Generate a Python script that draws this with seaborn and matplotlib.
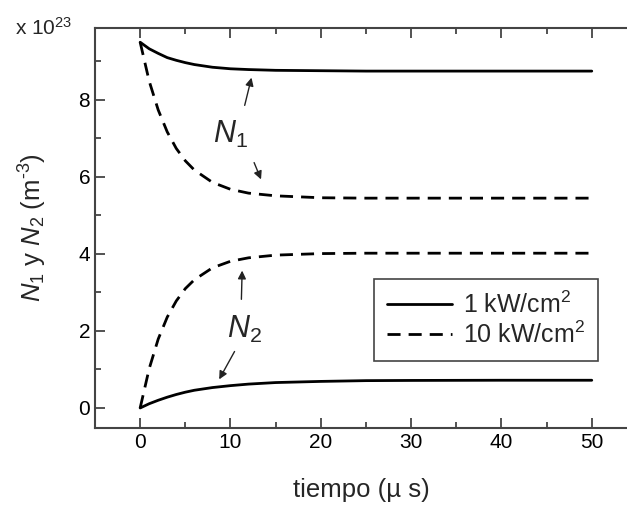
import pandas as pd
import numpy as np
import matplotlib
matplotlib.use('Agg')
import matplotlib.pyplot as plt
import seaborn as sns

# valores (unidades de 1e23 m^-3)
tiempo = [0, 1, 2, 3, 4, 5, 6, 8, 10, 12, 15, 20, 25, 30, 40, 50]
n1_1kw = [9.50, 9.33, 9.21, 9.10, 9.03, 8.97, 8.92, 8.85, 8.81, 8.79, 8.77, 8.76, 8.75, 8.75, 8.75, 8.75]
n2_1kw = [0.00, 0.11, 0.20, 0.28, 0.35, 0.41, 0.46, 0.53, 0.58, 0.62, 0.66, 0.69, 0.71, 0.715, 0.72, 0.72]
n1_10kw = [9.50, 8.49, 7.74, 7.17, 6.74, 6.42, 6.18, 5.86, 5.68, 5.58, 5.51, 5.46, 5.45, 5.45, 5.45, 5.45]
n2_10kw = [0.00, 1.02, 1.79, 2.36, 2.78, 3.10, 3.33, 3.64, 3.81, 3.90, 3.97, 4.01, 4.02, 4.02, 4.02, 4.02]
etiquetas = ['1 kW/cm$^2$', '10 kW/cm$^2$']

filas = []
for especie, pot, vals in [('N1', etiquetas[0], n1_1kw), ('N2', etiquetas[0], n2_1kw),
                           ('N1', etiquetas[1], n1_10kw), ('N2', etiquetas[1], n2_10kw)]:
    for t, v in zip(tiempo, vals):
        filas.append({'t': t, 'N': v, 'especie': especie, 'potencia': pot})
df = pd.DataFrame(filas)

sns.set_style('ticks')
plt.rcParams['font.family'] = ['Liberation Sans', 'DejaVu Sans']
plt.rcParams['mathtext.fontset'] = 'custom'
plt.rcParams['mathtext.rm'] = 'Liberation Sans'
plt.rcParams['mathtext.it'] = 'Liberation Sans:italic'

guion = (4.7, 2.9)

fig = plt.figure(figsize=(6.27, 5.05), dpi=100)
ax = fig.add_axes([0.1515, 0.1525, 0.8485, 0.7921])

sns.lineplot(data=df, x='t', y='N', style='potencia', units='especie', estimator=None,
             color='black', linewidth=2.0, ax=ax, legend=False,
             dashes={etiquetas[0]: '', etiquetas[1]: guion})

ax.set_xlim(-5, 53.9)
ax.set_ylim(-0.52, 9.87)
ax.set_xticks([0, 10, 20, 30, 40, 50])
ax.set_xticks([5, 15, 25, 35, 45], minor=True)
ax.set_yticks([0, 2, 4, 6, 8])
ax.set_yticks([1, 3, 5, 7, 9], minor=True)
ax.tick_params(which='both', direction='in', top=True, right=False, colors='#444444',
               labelcolor='black', width=1.3)
ax.tick_params(which='major', length=7, labelsize=15)
ax.tick_params(which='minor', length=4)
for lado in ['left', 'bottom', 'top']:
    ax.spines[lado].set_color('#444444')
    ax.spines[lado].set_linewidth(1.5)
ax.spines['right'].set_visible(False)

ax.set_xlabel('tiempo (\u00b5 s)', fontsize=18.5, labelpad=19)
ax.set_ylabel(r'$N_1$ y $N_2$ (m$^{\text{-3}}$)', fontsize=18.5, labelpad=21)
fig.text(0.024, 1 - 35 / 505, r'x 10$^{23}$', fontsize=15, va='baseline')

# anotaciones
flecha = dict(arrowstyle='-|>', color='#222222', lw=1.0, mutation_scale=12)
ax.text(8.1, 6.88, r'$N_1$', fontsize=22)
ax.annotate('', xy=(12.4, 8.65), xytext=(11.5, 7.79), arrowprops=flecha)
ax.annotate('', xy=(13.5, 5.87), xytext=(12.5, 6.44), arrowprops=flecha)
ax.text(9.6, 1.82, r'$N_2$', fontsize=22)
ax.annotate('', xy=(11.3, 3.64), xytext=(11.2, 2.75), arrowprops=flecha)
ax.annotate('', xy=(8.6, 0.68), xytext=(10.6, 1.53), arrowprops=flecha)

h1, = ax.plot([], [], color='black', lw=2.0)
h2, = ax.plot([], [], color='black', lw=2.0, dashes=guion)
leg = ax.legend([h1, h2], etiquetas, loc='upper right', bbox_to_anchor=(0.945, 0.3725),
                borderaxespad=0, fontsize=18, fancybox=False, framealpha=1,
                edgecolor='#444444', handlelength=2.6, handletextpad=0.45,
                borderpad=0.5, labelspacing=0.15)
leg.get_frame().set_linewidth(1.2)

fig.savefig('out.png', dpi=100)
